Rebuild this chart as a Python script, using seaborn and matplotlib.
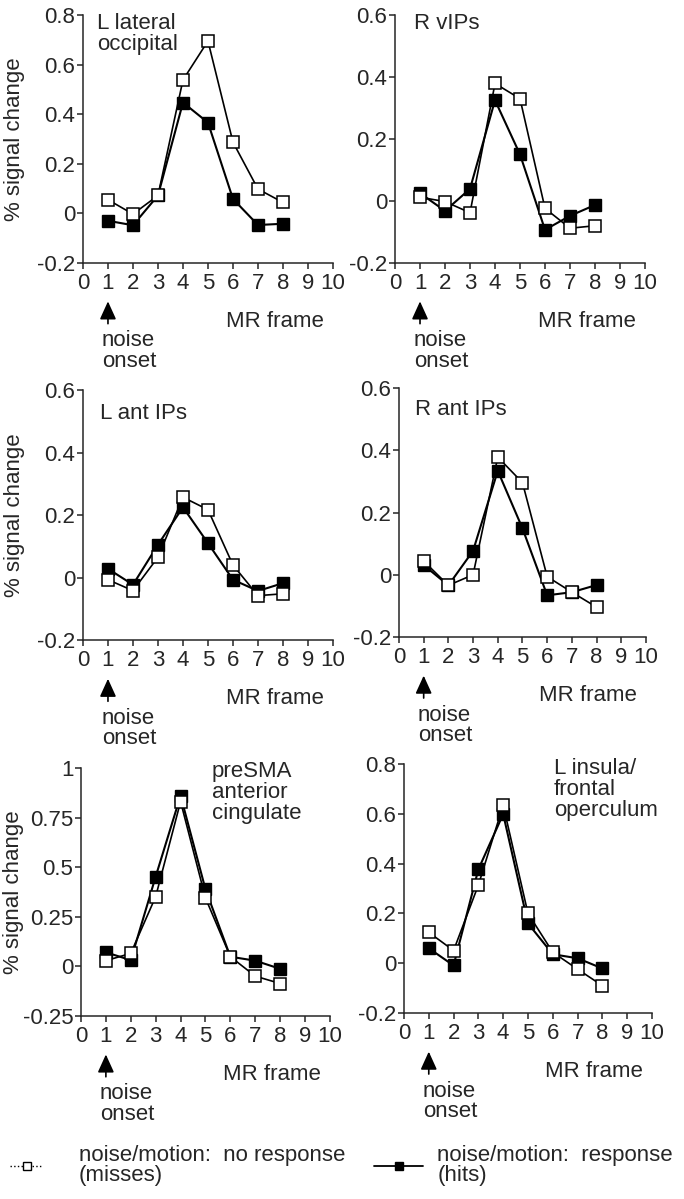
import matplotlib
matplotlib.use("Agg")
import matplotlib.pyplot as plt
from matplotlib.lines import Line2D
import seaborn as sns
import pandas as pd

# ---------------- data ----------------
frames = [1, 2, 3, 4, 5, 6, 7, 8]

regions = ["L lateral\noccipital", "R vIPs", "L ant IPs", "R ant IPs",
           "preSMA\nanterior\ncingulate", "L insula/\nfrontal\noperculum"]

misses_l_lat_occ = [0.055, -0.003, 0.072, 0.538, 0.695, 0.287, 0.098, 0.044]
hits_l_lat_occ = [-0.030, -0.048, 0.072, 0.447, 0.366, 0.058, -0.047, -0.042]

misses_r_vips = [0.012, -0.002, -0.038, 0.379, 0.330, -0.024, -0.088, -0.080]
hits_r_vips = [0.025, -0.032, 0.039, 0.325, 0.150, -0.093, -0.048, -0.013]

misses_l_ant_ips = [-0.007, -0.042, 0.065, 0.257, 0.217, 0.040, -0.058, -0.052]
hits_l_ant_ips = [0.028, -0.023, 0.105, 0.225, 0.110, -0.007, -0.043, -0.018]

misses_r_ant_ips = [0.044, -0.034, 0.000, 0.378, 0.296, -0.006, -0.056, -0.104]
hits_r_ant_ips = [0.031, -0.034, 0.077, 0.334, 0.149, -0.066, -0.056, -0.033]

misses_presma = [0.029, 0.066, 0.352, 0.831, 0.345, 0.049, -0.049, -0.086]
hits_presma = [0.071, 0.032, 0.453, 0.861, 0.389, 0.049, 0.029, -0.012]

misses_l_insula = [0.124, 0.051, 0.314, 0.635, 0.200, 0.044, -0.024, -0.090]
hits_l_insula = [0.060, -0.009, 0.377, 0.599, 0.160, 0.036, 0.020, -0.021]

misses_all = [misses_l_lat_occ, misses_r_vips, misses_l_ant_ips,
              misses_r_ant_ips, misses_presma, misses_l_insula]
hits_all = [hits_l_lat_occ, hits_r_vips, hits_l_ant_ips,
            hits_r_ant_ips, hits_presma, hits_l_insula]

yticks_a = [-0.2, 0, 0.2, 0.4, 0.6, 0.8]
ytick_labels_a = ["-0.2", "0", "0.2", "0.4", "0.6", "0.8"]
yticks_b = [-0.2, 0, 0.2, 0.4, 0.6]
ytick_labels_b = ["-0.2", "0", "0.2", "0.4", "0.6"]
yticks_c = [-0.25, 0, 0.25, 0.5, 0.75, 1.0]
ytick_labels_c = ["-0.25", "0", "0.25", "0.5", "0.75", "1"]
xticks = list(range(0, 11))
xtick_labels = [str(v) for v in xticks]

panel_yticks = [(yticks_a, ytick_labels_a), (yticks_b, ytick_labels_b),
                (yticks_b, ytick_labels_b), (yticks_b, ytick_labels_b),
                (yticks_c, ytick_labels_c), (yticks_a, ytick_labels_a)]

label_misses = "noise/motion:  no response\n(misses)"
label_hits = "noise/motion:  response\n(hits)"

# ---------------- style ----------------
sns.set_style("ticks")
plt.rcParams["font.family"] = ["Liberation Sans", "DejaVu Sans"]
plt.rcParams["axes.linewidth"] = 1.1
plt.rcParams["xtick.major.width"] = 1.1
plt.rcParams["ytick.major.width"] = 1.1
plt.rcParams["xtick.direction"] = "out"
plt.rcParams["ytick.direction"] = "out"

FS = 16

fig = plt.figure(figsize=(6.84, 11.99), dpi=100)

positions = [
    [0.1213, 0.7807, 0.3655, 0.2068],
    [0.5775, 0.7807, 0.3655, 0.2068],
    [0.1213, 0.4662, 0.3655, 0.2085],
    [0.5833, 0.4687, 0.3611, 0.2077],
    [0.1184, 0.1526, 0.3640, 0.2068],
    [0.5906, 0.1551, 0.3626, 0.2077],
]
title_pos = [(0.056, 1.01), (0.076, 1.01), (0.068, 0.95), (0.065, 0.955),
             (0.526, 1.03), (0.605, 1.025)]

for i in range(6):
    ax = fig.add_axes(positions[i])
    df_h = pd.DataFrame({"frame": frames, "val": hits_all[i]})
    df_m = pd.DataFrame({"frame": frames, "val": misses_all[i]})
    sns.lineplot(data=df_h, x="frame", y="val", ax=ax, color="black",
                 marker="s", markersize=8.5, markerfacecolor="black",
                 markeredgecolor="black", markeredgewidth=1.0, lw=1.5,
                 zorder=3)
    sns.lineplot(data=df_m, x="frame", y="val", ax=ax, color="black",
                 marker="s", markersize=8.5, markerfacecolor="white",
                 markeredgecolor="black", markeredgewidth=1.1, lw=1.2,
                 zorder=4)
    yt, ytl = panel_yticks[i]
    ax.set_xlim(0, 10)
    ax.set_ylim(yt[0], yt[-1])
    ax.set_xticks(xticks)
    ax.set_xticklabels(xtick_labels, fontsize=FS)
    ax.set_yticks(yt)
    ax.set_yticklabels(ytl, fontsize=FS)
    ax.tick_params(axis="both", length=4, pad=1.5)
    ax.tick_params(axis="x", pad=3)
    sns.despine(ax=ax)
    ax.set_xlabel("")
    if i % 2 == 0:
        ax.set_ylabel("% signal change", fontsize=FS)
        ax.yaxis.set_label_coords(-0.23, 0.5)
    else:
        ax.set_ylabel("")
    tx, ty = title_pos[i]
    ax.text(tx, ty, regions[i], transform=ax.transAxes, fontsize=FS,
            ha="left", va="top", linespacing=1.0)
    trans = ax.get_xaxis_transform()
    ax.annotate("", xy=(1, -0.155), xytext=(1, -0.245), xycoords=trans,
                textcoords=trans, annotation_clip=False,
                arrowprops=dict(arrowstyle="-|>,head_length=0.55,head_width=0.25",
                                color="black", lw=1.2,
                                mutation_scale=20, shrinkA=0, shrinkB=0))
    ax.text(9.65, -0.235, "MR frame", transform=trans, fontsize=FS,
            ha="right", va="center")
    ax.text(0.76, -0.355, "noise\nonset", transform=trans, fontsize=FS,
            ha="left", va="center", linespacing=0.95)

h_m = Line2D([], [], color="black", ls=":", lw=1.0, marker="s",
             markersize=6, markerfacecolor="white", markeredgecolor="black")
h_h = Line2D([], [], color="black", ls="-", lw=1.3, marker="s",
             markersize=6, markerfacecolor="black", markeredgecolor="black")

leg1 = fig.legend([h_m], [label_misses], loc="upper left",
                  bbox_to_anchor=(0.0146, 0.045), frameon=False,
                  fontsize=FS, handlelength=1.5, handletextpad=1.6,
                  borderpad=0, borderaxespad=0)
leg2 = fig.legend([h_h], [label_hits], loc="upper left",
                  bbox_to_anchor=(0.547, 0.045), frameon=False,
                  fontsize=FS, handlelength=2.2, handletextpad=0.65,
                  borderpad=0, borderaxespad=0)
for leg in (leg1, leg2):
    for t in leg.get_texts():
        t.set_linespacing(0.95)

fig.savefig("out.png", dpi=100)
